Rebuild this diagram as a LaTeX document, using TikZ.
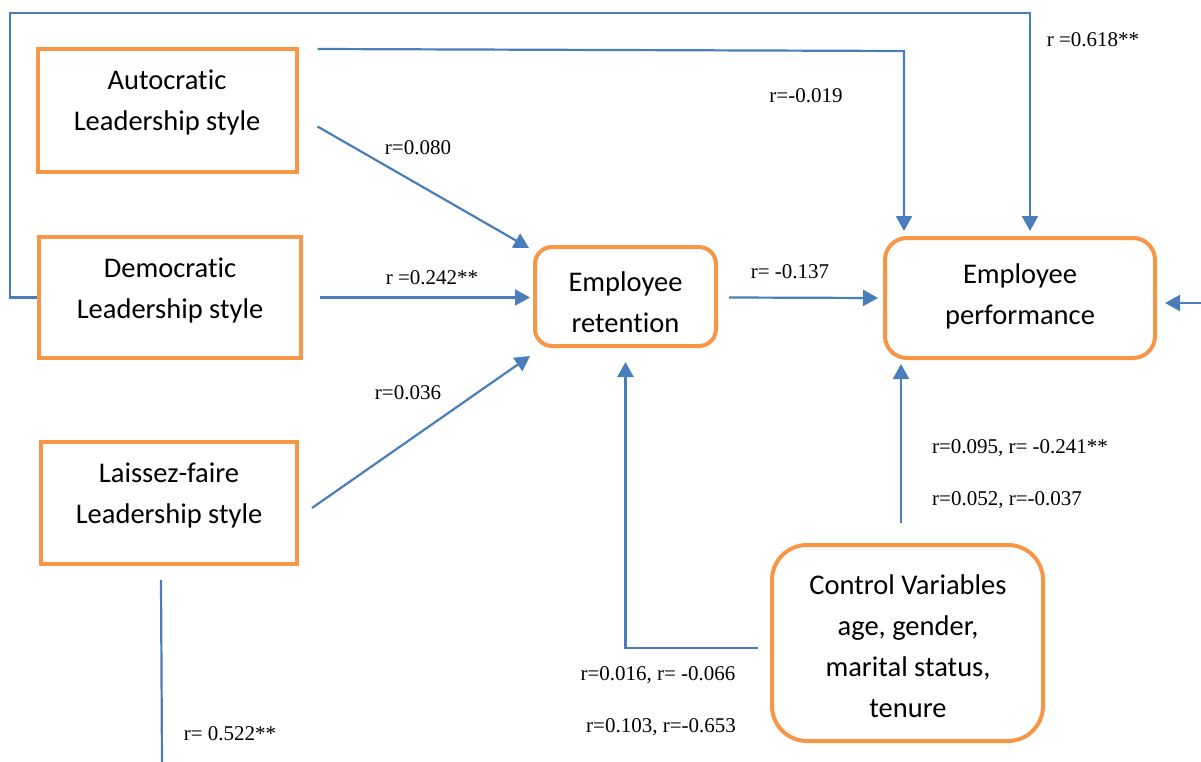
\documentclass[tikz,border=0pt]{standalone}
\usepackage{fontspec}
\setmainfont{Liberation Serif}
\newfontfamily\boxfont[Ligatures=NoCommon]{Carlito}
\usetikzlibrary{arrows.meta,calc}
\definecolor{linkblue}{HTML}{4A7EBB}
\definecolor{boxorange}{HTML}{F79646}
\begin{document}
\begin{tikzpicture}[x=1pt,y=-1pt,
  sqbox/.style={draw=boxorange, line width=4pt, fill=white, inner sep=0pt},
  rbox/.style={sqbox, rounded corners=#1},
  btext/.style={font=\boxfont\fontsize{28.5}{41}\selectfont, align=center, inner sep=0pt},
  rlabel/.style={font=\fontsize{21}{25}\selectfont, anchor=base, inner sep=0pt},
  link/.style={draw=linkblue, line width=2.2pt},
  arrowlink/.style={link, -{Triangle[length=15pt,width=16pt]}}]
\useasboundingbox (0,0) rectangle (1201,762);

% leadership style boxes
\node[sqbox, minimum width=259pt, minimum height=123pt] (auto) at (167,110.5) {};
\node[btext] (autoT) at (167,102) {Autocratic\\Leadership style};
\node[sqbox, minimum width=262pt, minimum height=121pt] (demo) at (170,297.5) {};
\node[btext] (demoT) at (170,290) {Democratic\\Leadership style};
\node[sqbox, minimum width=256pt, minimum height=122pt] (laissez) at (169,503) {};
\node[btext] (laissezT) at (169,495) {Laissez-faire\\Leadership style};

% outcome boxes
\node[rbox=17pt, minimum width=181pt, minimum height=99pt] (ret) at (625.5,296.5) {};
\node[btext] (retT) at (625.5,302) {Employee\\retention};
\node[rbox=22pt, minimum width=270pt, minimum height=120pt] (perf) at (1020,298) {};
\node[btext] (perfT) at (1020,296) {Employee\\performance};
\node[rbox=35pt, minimum width=271pt, minimum height=196pt] (ctrl) at (907.5,643) {};
\node[btext] (ctrlT) at (908,646) {Control Variables\\age, gender,\\marital status,\\tenure};

% helper points for routed connectors
\coordinate (loopL) at (10,13);
\coordinate (loopR) at (1030,13);
\coordinate (autoR) at (904,51);
\coordinate (rightIn) at (1201,303);
\coordinate (cpS) at (901,523);
\coordinate (lfEnd) at (162,762);

% connectors
\draw[arrowlink, shorten >=5pt] (demo.west) -| (loopL) -- (loopR) -- (loopR |- perf.north);
\draw[arrowlink, shorten >=5pt] ($(auto.north east)+(19,2)$) -- (autoR) -- (autoR |- perf.north);
\draw[arrowlink] ($(auto.east)+(19,16)$) -- ($(ret.north west)+(-4,3)$);
\draw[arrowlink] ($(demo.east)+(17,0)$) -- ($(ret.west)+(-3,1)$);
\draw[arrowlink] ($(laissez.east)+(13,5)$) -- ($(ret.south west)+(-3,8)$);
\draw[arrowlink] ($(ret.east)+(11,1)$) -- ($(perf.west)+(-5,0)$);
\draw[arrowlink, shorten >=8pt] (rightIn) -- (perf.east |- rightIn);
\draw[arrowlink, shorten >=4pt] (cpS) -- (cpS |- perf.south);
\draw[arrowlink, shorten >=14pt] ($(ctrl.west)+(-12,5)$) -| (ret.south);
\draw[link] ($(laissez.south)+(-8,14)$) -- (lfEnd);

% correlation labels
\node[rlabel] (l618) at (1093,47) {r =0.618**};
\node[rlabel] (l019) at (806,103) {r=-0.019};
\node[rlabel] (l080) at (418,155) {r=0.080};
\node[rlabel] (l242) at (432,284) {r =0.242**};
\node[rlabel] (l036) at (408,399) {r=0.036};
\node[rlabel] (l137) at (790,278) {r= -0.137};
\node[rlabel] (l095) at (1020,453) {r=0.095, r= -0.241**};
\node[rlabel] (l052) at (1007,505) {r=0.052, r=-0.037};
\node[rlabel] (l016) at (658,680) {r=0.016, r= -0.066};
\node[rlabel] (l103) at (661,732) {r=0.103, r=-0.653};
\node[rlabel] (l522) at (230,740) {r= 0.522**};
\end{tikzpicture}
\end{document}
